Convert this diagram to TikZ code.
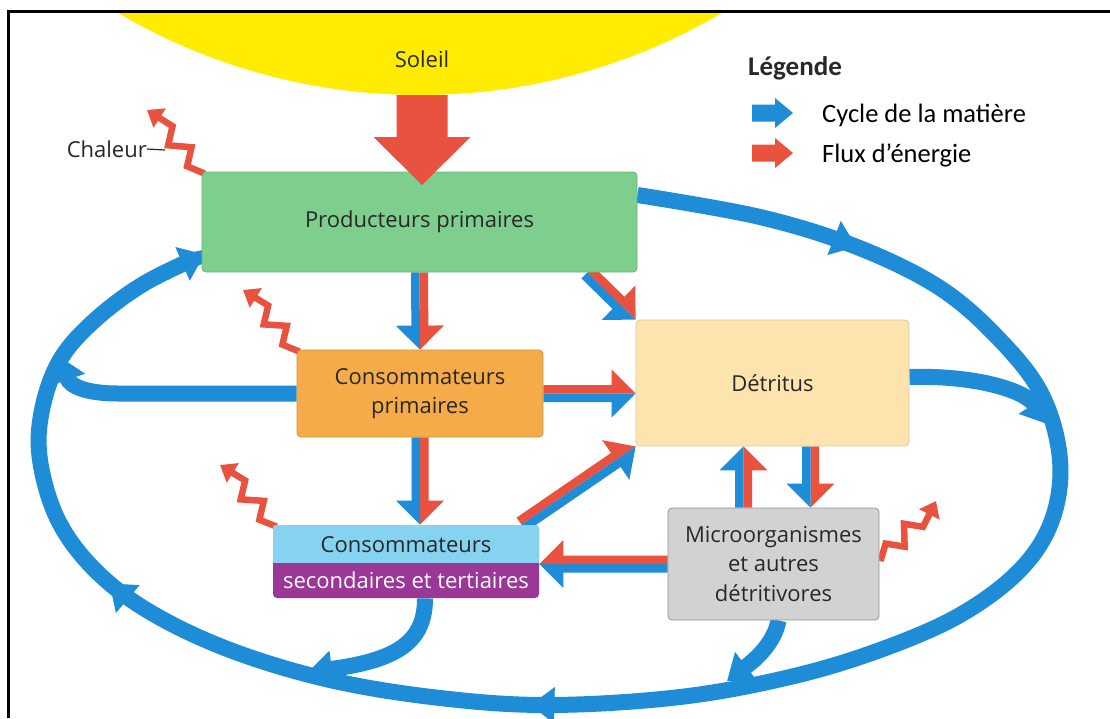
\documentclass[tikz,border=0pt]{standalone}
\usepackage{fontspec}
\setmainfont{Open Sans}
\newfontfamily\legfont{Carlito}
\usetikzlibrary{arrows.meta,calc,decorations.markings}
\definecolor{blueA}{RGB}{30,140,215}
\definecolor{redA}{RGB}{234,82,64}
\definecolor{sunY}{RGB}{255,236,0}
\definecolor{greenF}{RGB}{126,207,142}
\definecolor{greenD}{RGB}{104,182,120}
\definecolor{orangeF}{RGB}{245,172,72}
\definecolor{orangeD}{RGB}{205,145,70}
\definecolor{beigeF}{RGB}{253,227,174}
\definecolor{beigeD}{RGB}{226,202,152}
\definecolor{lblueF}{RGB}{133,211,241}
\definecolor{purpleF}{RGB}{155,55,150}
\definecolor{grayF}{RGB}{210,210,210}
\definecolor{grayD}{RGB}{150,150,150}
\definecolor{textC}{RGB}{40,40,40}
\newcommand\bfnt{\fontsize{22}{29.5}\selectfont}
\newcommand\dsw{8.5pt}
\newcommand\dhw{24pt}
\newcommand\dhl{24pt}
% half of a block arrow: start, end, colour, angle, -angle, shaft half width, head half width, head length
\newcommand\blockhalf[8]{\fill[#3] (#1) -- ($(#1)!#6!#4:(#2)$) -- ($(#2)!#8!(#1)!#6!#5:(#1)$) -- ($(#2)!#8!(#1)!#7!#5:(#1)$) -- (#2) -- cycle;}
% two-coloured arrow: start, end, colour on the left of the direction, colour on the right
\newcommand\duoarrow[4]{\blockhalf{#1}{#2}{#3}{90}{-90}{\dsw}{\dhw}{\dhl}\blockhalf{#1}{#2}{#4}{-90}{90}{\dsw}{\dhw}{\dhl}}
% one-coloured block arrow: start, end, colour, shaft half width, head half width, head length
\newcommand\myblockarrow[6]{\fill[#3] ($(#1)!#4!90:(#2)$) -- ($(#2)!#6!(#1)!#4!-90:(#1)$) -- ($(#2)!#6!(#1)!#5!-90:(#1)$) -- (#2) -- ($(#2)!#6!(#1)!#5!90:(#1)$) -- ($(#2)!#6!(#1)!#4!90:(#1)$) -- ($(#1)!#4!-90:(#2)$) -- cycle;}
% zigzag heat arrow
\newcommand\heatarrow[2]{\draw[heat] (#1) -- ($(#1)!0.2!(#2)!8pt!90:(#2)$) -- ($(#1)!0.33!(#2)!8pt!-90:(#2)$) -- ($(#1)!0.53!(#2)!8pt!90:(#2)$) -- ($(#1)!0.66!(#2)!8pt!-90:(#2)$) -- (#2);}
\tikzset{
  boxst/.style={rectangle, rounded corners=4pt, line width=0.8pt, inner sep=0pt, align=center, font=\bfnt, text=textC},
  lbl/.style={inner sep=0pt, align=center, font=\bfnt, text=textC},
  matter/.style={draw=blueA, line width=16pt},
  mtip/.style={-{Triangle[width=35pt,length=24pt]}},
  heat/.style={draw=redA, line width=6.5pt, -{Triangle[width=22pt,length=15pt]}},
  legtxt/.style={inner sep=0pt, anchor=base west, font=\legfont\fontsize{26.5}{30}\selectfont, text=black}
}
\begin{document}
\begin{tikzpicture}[x=1pt,y=-1pt]
\useasboundingbox (0,0) rectangle (1110,718);
\fill[white] (0,0) rectangle (1110,718);
% sun
\begin{scope}
  \clip (9,12) rectangle (1110,718);
  \fill[sunY] (420,-501) circle[radius=596pt];
\end{scope}
\draw[line width=3pt] (8,718) -- (8,11) -- (1110,11);
\node[lbl, anchor=base] (sol) at (422,67) {Soleil};

% positions of boxes (nodes drawn later, names needed first)
\path (419.5,222) node[boxst, minimum width=435pt, minimum height=100pt] (pp) {};
\path (420,393.5) node[boxst, minimum width=246pt, minimum height=87pt] (co) {};
\path (772.5,383) node[boxst, minimum width=273pt, minimum height=126pt] (dt) {};
\path (406,561.5) node[boxst, minimum width=266pt, minimum height=73pt] (cs) {};
\path (773.5,564) node[boxst, minimum width=211pt, minimum height=112pt] (mo) {};

% big matter loop
\coordinate (L0) at ($(pp.east)+(0,-27)$);
\coordinate (L1) at ($(pp.south west)+(3,-18)$);
\draw[matter, mtip, postaction={decorate}, decoration={markings,
   mark=at position 0.11 with {\arrow{Triangle[width=35pt,length=24pt]}},
   mark=at position 0.573 with {\arrow{Triangle[width=35pt,length=24pt]}},
   mark=at position 0.79 with {\arrow{Triangle[width=35pt,length=24pt]}}}]
  plot[smooth, tension=0.6] coordinates {(L0) (760,217) (857,247) (940,288) (1000,340) (1042,395) (1060,460) (1052,520) (1020,570) (960,615) (880,650) (790,677) (680,697) (550,705) (440,698) (330,680) (230,650) (150,612) (95,570) (58,520) (40,460) (42,410) (60,360) (95,320) (145,283) (L1)};

% other matter arrows
\coordinate (olt) at (60,357);
\draw[matter, mtip] (co.west) -- (118,393.5) .. controls (86,393.5) and (70,386) .. (olt);
\coordinate (pbs) at ($(cs.south)+(19,0)$);
\coordinate (pbt) at (308,672);
\draw[matter, mtip] (pbs) .. controls (425,640) and (400,660) .. (pbt);
\coordinate (gbs) at ($(mo.south)+(5,0)$);
\coordinate (gbt) at (727,681);
\draw[matter, mtip] (gbs) .. controls (774,645) and (752,662) .. (gbt);
\coordinate (drs) at ($(dt.east)+(0,-6)$);
\coordinate (drt) at (1047,424);
\draw[matter, mtip] (drs) .. controls (974,375) and (1025,390) .. (drt);

% two-coloured arrows
\duoarrow{pp.south}{co.north}{redA}{blueA}
\coordinate (a2s) at ($(pp.south east)+(-50,0)$);
\duoarrow{a2s}{dt.north west}{redA}{blueA}
\coordinate (a3e) at (co.east -| dt.west);
\duoarrow{co.east}{a3e}{redA}{blueA}
\coordinate (a4e) at (co.south |- cs.north);
\duoarrow{co.south}{a4e}{redA}{blueA}
\coordinate (a5s) at ($(cs.north east)+(-18,0)$);
\duoarrow{a5s}{dt.south west}{redA}{blueA}
\coordinate (a6s) at ($(mo.north)+(-30,0)$);
\coordinate (a6e) at (a6s |- dt.south);
\duoarrow{a6s}{a6e}{blueA}{redA}
\coordinate (a7e) at ($(mo.north)+(37,0)$);
\coordinate (a7s) at (a7e |- dt.south);
\duoarrow{a7s}{a7e}{redA}{blueA}
\coordinate (a8e) at (cs.east |- mo.west);
\duoarrow{mo.west}{a8e}{blueA}{redA}

% heat arrows
\coordinate (h1s) at ($(pp.north west)+(3,2)$);
\coordinate (h1e) at (147,110);
\heatarrow{h1s}{h1e}
\coordinate (h2s) at ($(co.north west)+(3,2)$);
\coordinate (h2e) at (243,290);
\heatarrow{h2s}{h2e}
\coordinate (h3s) at ($(cs.north west)+(4,2)$);
\coordinate (h3e) at (220,465);
\heatarrow{h3s}{h3e}
\coordinate (h4s) at ($(mo.east)+(1,-3)$);
\coordinate (h4e) at (936,501);
\heatarrow{h4s}{h4e}

% boxes
\node[boxst, fill=greenF, draw=greenD, minimum width=435pt, minimum height=100pt] at (pp) {Producteurs primaires};
\node[boxst, fill=orangeF, draw=orangeD, minimum width=246pt, minimum height=87pt] at (co) {Consommateurs\\primaires};
\node[boxst, fill=beigeF, draw=beigeD, minimum width=273pt, minimum height=126pt] at (dt) {Détritus};
\node[boxst, fill=purpleF, minimum width=266pt, minimum height=73pt] at (cs) {};
\begin{scope}
  \clip[rounded corners=4pt] (cs.south west) rectangle (cs.north east);
  \fill[lblueF] (cs.north west) rectangle ($(cs.east)+(0,1.5)$);
\end{scope}
\node[lbl] (cst1) at (406,545) {Consommateurs};
\node[lbl, text=white] (cst2) at (406,580) {secondaires et tertiaires};
\node[boxst, fill=grayF, draw=grayD, minimum width=211pt, minimum height=112pt] at (mo) {Microorganismes\\et autres\\détritivores};

% sun arrow
\coordinate (sunb) at (422,95);
\coordinate (suntip) at (422,185);
\myblockarrow{sunb}{suntip}{redA}{25.5pt}{48.5pt}{48pt}

% Chaleur label
\node[lbl, anchor=east] (chal) at (147,149) {Chaleur};
\coordinate (chalm) at (165,150);
\draw[line width=1.2pt, textC] (chal.east) -- (chalm);

% legend
\node[inner sep=0pt, anchor=base west, font=\legfont\bfseries\fontsize{27}{30}\selectfont, text=textC] (legt) at (748,75) {Légende};
\coordinate (lb1) at (752,113);
\coordinate (lb2) at (793,113);
\myblockarrow{lb1}{lb2}{blueA}{8.5pt}{15pt}{18pt}
\coordinate (lr1) at (752,153);
\coordinate (lr2) at (793,153);
\myblockarrow{lr1}{lr2}{redA}{8.5pt}{15pt}{18pt}
\node[legtxt] (leg1) at (822,122) {Cycle de la matière};
\node[legtxt] (leg2) at (822,162) {Flux d’énergie};
\end{tikzpicture}
\end{document}
